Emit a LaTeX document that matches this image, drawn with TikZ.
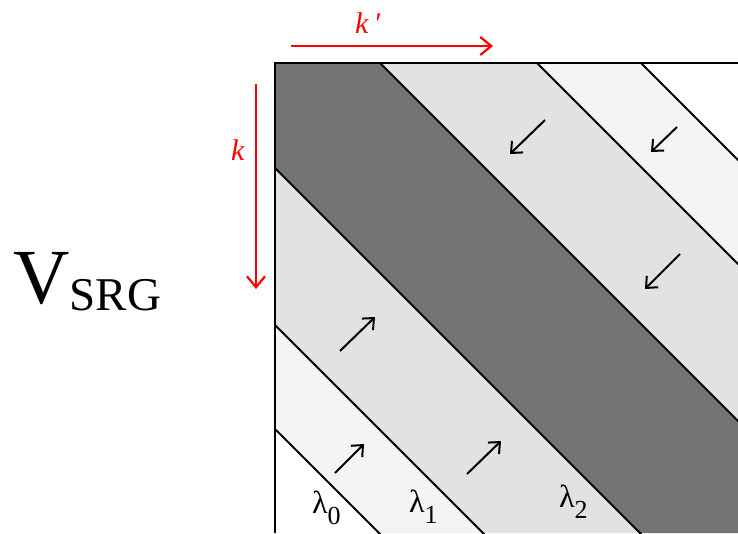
\documentclass[tikz,border=0pt]{standalone}
\usepackage{fontspec}
\setmainfont{Liberation Serif}
\usetikzlibrary{arrows.meta}
\definecolor{bandlight}{RGB}{244,244,244}
\definecolor{bandgray}{RGB}{226,226,226}
\definecolor{banddark}{RGB}{116,116,116}
\newcommand{\lam}[1]{λ\raisebox{-11pt}{\fontsize{26}{26}\selectfont #1}}

\begin{document}
\begin{tikzpicture}[x=1pt,y=-1pt,
    bandline/.style={black, line width=2pt},
    flowarrow/.style={black, line width=2pt, -{Straight Barb[length=9pt,width=16pt]}},
    idxarrow/.style={red, line width=2.2pt, -{Straight Barb[length=11pt,width=18pt]}},
    lamlabel/.style={anchor=base west, inner sep=0pt, font=\fontsize{32}{32}\selectfont},
    idxlabel/.style={anchor=base west, inner sep=0pt, text=red, font=\fontsize{30}{30}\selectfont\itshape}]
    \useasboundingbox (0,0) rectangle (738,533);

    % bands along the diagonal
    \begin{scope}
        \clip (275,63) rectangle (738,533);
        \fill[white] (275,63) rectangle (738,533);
        \foreach \a/\b/\c in {-154/-50/bandlight, -50/107/bandgray, 107/317/banddark,
                              317/474/bandgray, 474/578/bandlight}
            \fill[\c] ({\a+63},63) -- ({\b+63},63) -- ({\b+533},533) -- ({\a+533},533) -- cycle;
        \foreach \c in {-154,-50,107,317,474,578}
            \draw[bandline] ({\c+43},43) -- ({\c+553},553);
    \end{scope}
    \draw[line width=2.6pt] (275,533) -- (275,63) -- (738,63);

    % flow arrows
    \draw[flowarrow] (545,120) -- (510,154);
    \draw[flowarrow] (677,127) -- (651,152);
    \draw[flowarrow] (680,254) -- (645,289);
    \draw[flowarrow] (340,351) -- (375,317);
    \draw[flowarrow] (335,473) -- (364,444);
    \draw[flowarrow] (467,474) -- (501,441);

    % band labels
    \node[lamlabel] (lam0) at (312,513) {\lam{0}};
    \node[lamlabel] (lam1) at (409,512) {\lam{1}};
    \node[lamlabel] (lam2) at (559,507) {\lam{2}};

    % index directions
    \coordinate (kpstart) at (291,46);
    \coordinate (kpend) at (493,46);
    \coordinate (kstart) at (256,84);
    \coordinate (kend) at (256,289);
    \draw[idxarrow] (kpstart) -- (kpend);
    \draw[idxarrow] (kstart) -- (kend);
    \node[idxlabel] (kplabel) at (355,33) {k\,′};
    \node[idxlabel] (klabel) at (231,160) {k};

    \node[anchor=base west, inner sep=0pt] (vsrg) at (13,303)
        {\fontsize{78}{78}\selectfont V\raisebox{-7pt}{\fontsize{47}{47}\selectfont SRG}};
\end{tikzpicture}
\end{document}
